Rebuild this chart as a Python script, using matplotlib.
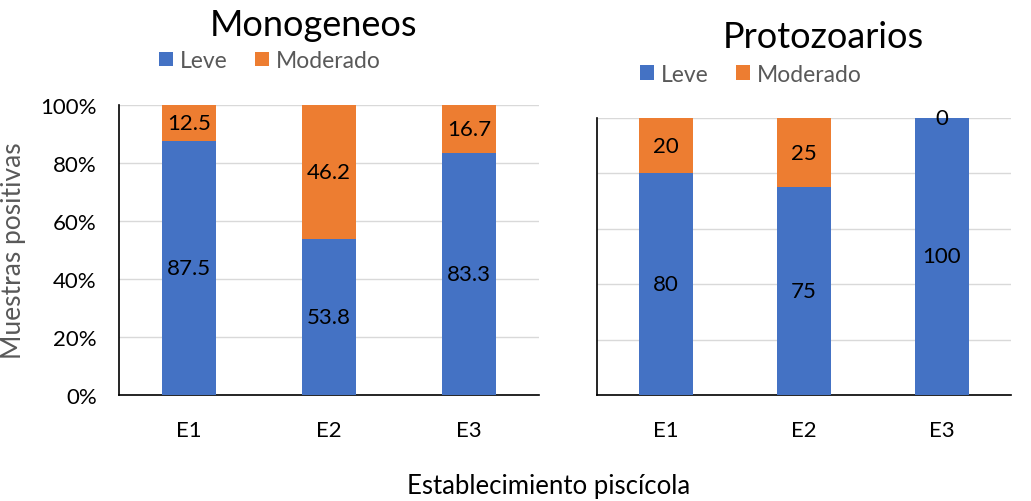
import matplotlib.pyplot as plt
import numpy as np

plt.rcParams['font.family'] = ['Lato', 'DejaVu Sans']

categorias = ["E1", "E2", "E3"]
mono_leve = [87.5, 53.8, 83.3]
mono_moderado = [12.5, 46.2, 16.7]
proto_leve = [80, 75, 100]
proto_moderado = [20, 25, 0]
yticks = [0, 20, 40, 60, 80, 100]

azul = "#4472C4"
naranja = "#ED7D31"
gris = "#595959"

fig = plt.figure(figsize=(10.31, 5.02), dpi=100)
ax1 = fig.add_axes([0.1154, 0.2112, 0.4074, 0.5777])
ax2 = fig.add_axes([0.579, 0.2112, 0.4016, 0.5518])


def dibujar(ax, leve, moderado, etiquetas_y):
    x = np.arange(len(categorias))
    b1 = ax.bar(x, leve, width=0.39, color=azul, label="Leve", zorder=3)
    b2 = ax.bar(x, moderado, width=0.39, bottom=leve, color=naranja, label="Moderado", zorder=3)
    ax.bar_label(b1, labels=[f"{v:g}" for v in leve], label_type="center", fontsize=16, color="black")
    ax.bar_label(b2, labels=[f"{v:g}" for v in moderado], label_type="center", fontsize=16, color="black")
    ax.set_xlim(-0.5, 2.5)
    ax.set_ylim(0, 100)
    ax.set_yticks(yticks)
    if etiquetas_y:
        ax.set_yticklabels([f"{t}%" for t in yticks])
    else:
        ax.set_yticklabels([])
    ax.set_xticks(x)
    ax.set_xticklabels(categorias)
    ax.tick_params(axis="both", length=0, labelsize=16)
    ax.tick_params(axis="y", pad=16)
    ax.tick_params(axis="x", pad=18)
    ax.grid(axis="y", color="#D9D9D9", linewidth=1, zorder=0)
    for s in ["top", "right"]:
        ax.spines[s].set_visible(False)
    for s in ["left", "bottom"]:
        ax.spines[s].set_color("black")
        ax.spines[s].set_linewidth(1.2)
    return b1, b2


h1 = dibujar(ax1, mono_leve, mono_moderado, True)
h2 = dibujar(ax2, proto_leve, proto_moderado, False)

ax1.set_ylabel("Muestras positivas", fontsize=19, color=gris, labelpad=10)

fig.text(0.304, 0.95, "Monogeneos", fontsize=26, ha="center", va="center")
fig.text(0.799, 0.926, "Protozoarios", fontsize=26, ha="center", va="center")

fig.legend(h1, ["Leve", "Moderado"], loc="center", bbox_to_anchor=(0.262, 0.877),
           ncol=2, frameon=False, fontsize=16.5, labelcolor=gris, handlelength=0.6,
           handleheight=0.6, handletextpad=0.3, columnspacing=1.2)
fig.legend(h2, ["Leve", "Moderado"], loc="center", bbox_to_anchor=(0.728, 0.85),
           ncol=2, frameon=False, fontsize=16.5, labelcolor=gris, handlelength=0.6,
           handleheight=0.6, handletextpad=0.3, columnspacing=1.2)

fig.text(0.532, 0.03, "Establecimiento piscícola", fontsize=18.5, ha="center", va="center")

fig.savefig("out.png", dpi=100)
